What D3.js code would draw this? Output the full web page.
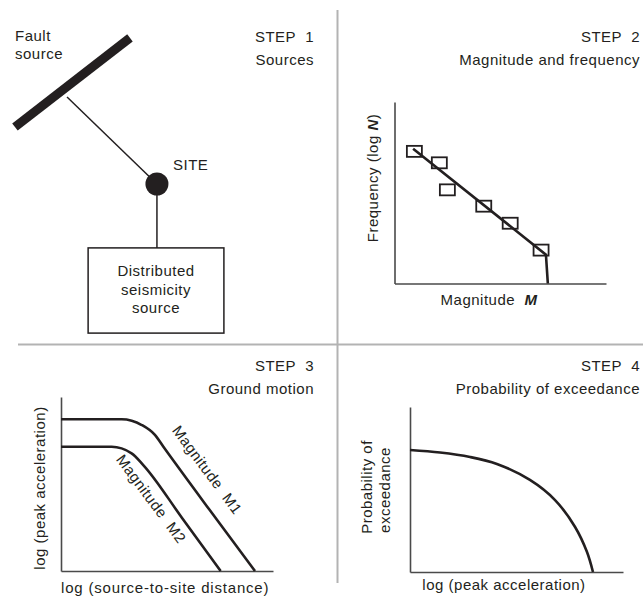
<!DOCTYPE html>
<html>
<head>
<meta charset="utf-8">
<script src="https://cdn.jsdelivr.net/npm/d3@7/dist/d3.min.js"></script>
<style>
  html, body { margin: 0; padding: 0; background: #fff; }
  svg { display: block; }
  text { font-family: "Liberation Sans", Arial, Helvetica, sans-serif; font-size: 15px; letter-spacing: 0.5px; fill: #231f20; white-space: pre; }
</style>
</head>
<body>
<svg id="chart" width="643" height="598"></svg>
<script>
// ---- Step 1: source schematic (units 0..100 in a local frame) ----
const faultTrace = [[1.6, 31], [38.7, 1.3]];           // fault rupture plane
const faultPoint = [18.4, 21];                          // closest point on fault
const sitePoint = [47.4, 50];                           // site location
const areaSource = { x0: 25.2, x1: 69, y0: 71.3, y1: 99.7 }; // distributed source zone
const areaSourceLines = ["Distributed", "seismicity", "source"];

// ---- Step 2: magnitude-recurrence ----
const magObs = [0.94, 2.12, 2.5, 4.22, 5.47, 6.93];
const logNObs = [7.28, 6.65, 5.16, 4.26, 3.32, 1.84];
const recurrenceFit = [[0.88, 7.42], [7.16, 1.59], [7.25, 0]];

// ---- Step 3: attenuation curves ----
const attenM1 = [[0, 8.72], [2.86, 8.72], [3.81, 8.39], [4.43, 7.82], [4.83, 7.14], [6.98, 3.56], [9.15, 0]];
const attenM2 = [[0, 7.14], [2.39, 7.14], [3.33, 6.76], [3.88, 6.09], [5.71, 3.05], [7.53, 0]];

// ---- Step 4: hazard curve ----
const hazardCurve = [[0, 7.39], [1.41, 7.24], [2.82, 6.97], [4.08, 6.55], [5.63, 5.58], [6.81, 4.36], [7.75, 2.73], [8.31, 1.21], [8.59, 0]];

// ---- Panel titles ----
const stepTitles = ["STEP  1", "STEP  2", "STEP  3", "STEP  4"];
const stepSubtitles = ["Sources", "Magnitude and frequency", "Ground motion", "Probability of exceedance"];

const svg = d3.select("#chart");
const ink = "#231f20";
const axisInk = "#4a4a4a";

// panel dividers
svg.append("line").attr("x1", 337.5).attr("x2", 337.5).attr("y1", 10).attr("y2", 583)
  .attr("stroke", "#b3b3b3").attr("stroke-width", 2);
svg.append("line").attr("x1", 18).attr("x2", 643).attr("y1", 344.5).attr("y2", 344.5)
  .attr("stroke", "#b3b3b3").attr("stroke-width", 2);

// titles
const titleRight = [314, 640, 314, 640];
const titleBase = [42, 371];
const subBase = [65, 394];
stepTitles.forEach((t, i) => {
  const row = i < 2 ? 0 : 1;
  svg.append("text").attr("x", titleRight[i]).attr("y", titleBase[row])
    .attr("text-anchor", "end").text(t);
  svg.append("text").attr("x", titleRight[i]).attr("y", subBase[row])
    .attr("text-anchor", "end").text(stepSubtitles[i]);
});

// ===== Step 1 =====
const sx1 = d3.scaleLinear().domain([0, 100]).range([10, 320]);
const sy1 = d3.scaleLinear().domain([0, 100]).range([34, 334]);
const p1 = svg.append("g");
p1.append("line")
  .attr("x1", sx1(faultPoint[0])).attr("y1", sy1(faultPoint[1]))
  .attr("x2", sx1(sitePoint[0])).attr("y2", sy1(sitePoint[1]))
  .attr("stroke", ink).attr("stroke-width", 1.5);
p1.append("line")
  .attr("x1", sx1(sitePoint[0])).attr("y1", sy1(sitePoint[1]))
  .attr("x2", sx1(sitePoint[0])).attr("y2", sy1(areaSource.y0))
  .attr("stroke", ink).attr("stroke-width", 1.5);
p1.append("line")
  .attr("x1", sx1(faultTrace[0][0])).attr("y1", sy1(faultTrace[0][1]))
  .attr("x2", sx1(faultTrace[1][0])).attr("y2", sy1(faultTrace[1][1]))
  .attr("stroke", ink).attr("stroke-width", 9);
p1.append("circle").attr("cx", sx1(sitePoint[0])).attr("cy", sy1(sitePoint[1]))
  .attr("r", 11.5).attr("fill", ink);
p1.append("rect")
  .attr("x", sx1(areaSource.x0)).attr("y", sy1(areaSource.y0))
  .attr("width", sx1(areaSource.x1) - sx1(areaSource.x0))
  .attr("height", sy1(areaSource.y1) - sy1(areaSource.y0))
  .attr("fill", "none").attr("stroke", ink).attr("stroke-width", 1.5);
const boxCx = (sx1(areaSource.x0) + sx1(areaSource.x1)) / 2;
areaSourceLines.forEach((t, i) => {
  p1.append("text").attr("x", boxCx).attr("y", 276 + i * 18.5)
    .attr("text-anchor", "middle").text(t);
});
p1.append("text").attr("x", 173).attr("y", 170).text("SITE");
p1.append("text").attr("x", 15).attr("y", 41).text("Fault");
p1.append("text").attr("x", 15).attr("y", 59).text("source");

// helper: axis lines only (no ticks)
function drawAxes(g, x, y) {
  const xa = g.append("g").attr("transform", `translate(0,${y.range()[0]})`)
    .call(d3.axisBottom(x).ticks(0).tickSizeOuter(0));
  const ya = g.append("g").attr("transform", `translate(${x.range()[0]},0)`)
    .call(d3.axisLeft(y).ticks(0).tickSizeOuter(0));
  [xa, ya].forEach(a => a.select(".domain").attr("stroke", axisInk).attr("stroke-width", 1.6));
}

// ===== Step 2 =====
const x2 = d3.scaleLinear().domain([0, 10]).range([394.5, 606]);
const y2 = d3.scaleLinear().domain([0, 10]).range([283.5, 102]);
const p2 = svg.append("g");
drawAxes(p2, x2, y2);
p2.append("path").datum(recurrenceFit)
  .attr("d", d3.line().x(d => x2(d[0])).y(d => y2(d[1])))
  .attr("fill", "none").attr("stroke", ink).attr("stroke-width", 2.6);
p2.selectAll("rect.obs").data(magObs.map((m, i) => [m, logNObs[i]])).join("rect")
  .attr("class", "obs")
  .attr("x", d => x2(d[0]) - 7.5).attr("y", d => y2(d[1]) - 5.5)
  .attr("width", 15).attr("height", 11)
  .attr("fill", "none").attr("stroke", ink).attr("stroke-width", 1.8);
const xl2 = p2.append("text").attr("x", 489).attr("y", 305).attr("text-anchor", "middle");
xl2.append("tspan").text("Magnitude  ");
xl2.append("tspan").attr("font-weight", "bold").attr("font-style", "italic").text("M");
const yl2 = p2.append("text").attr("transform", "translate(378,178) rotate(-90)").attr("text-anchor", "middle");
yl2.append("tspan").text("Frequency (log ");
yl2.append("tspan").attr("font-weight", "bold").attr("font-style", "italic").text("N");
yl2.append("tspan").text(")");

// ===== Step 3 =====
const x3 = d3.scaleLinear().domain([0, 10]).range([61, 273]);
const y3 = d3.scaleLinear().domain([0, 10]).range([571, 397]);
const p3 = svg.append("g");
drawAxes(p3, x3, y3);
const line3 = d3.line().x(d => x3(d[0])).y(d => y3(d[1])).curve(d3.curveMonotoneX);
[attenM1, attenM2].forEach(c => {
  p3.append("path").datum(c).attr("d", line3)
    .attr("fill", "none").attr("stroke", ink).attr("stroke-width", 2.6);
});
p3.append("text").attr("transform", "translate(203,473) rotate(53.5)")
  .attr("text-anchor", "middle").text("Magnitude  M1");
p3.append("text").attr("transform", "translate(147,502) rotate(53.5)")
  .attr("text-anchor", "middle").text("Magnitude  M2");
p3.append("text").attr("x", 165).attr("y", 593).attr("text-anchor", "middle")
  .attr("textLength", 208).attr("lengthAdjust", "spacing")
  .text("log (source-to-site distance)");
p3.append("text").attr("transform", "translate(45,488) rotate(-90)").attr("text-anchor", "middle")
  .text("log (peak acceleration)");

// ===== Step 4 =====
const x4 = d3.scaleLinear().domain([0, 10]).range([410, 623]);
const y4 = d3.scaleLinear().domain([0, 10]).range([572, 407]);
const p4 = svg.append("g");
drawAxes(p4, x4, y4);
p4.append("path").datum(hazardCurve)
  .attr("d", d3.line().x(d => x4(d[0])).y(d => y4(d[1])).curve(d3.curveCatmullRom))
  .attr("fill", "none").attr("stroke", ink).attr("stroke-width", 2.6);
p4.append("text").attr("x", 504).attr("y", 590).attr("text-anchor", "middle")
  .text("log (peak acceleration)");
p4.append("text").attr("transform", "translate(372,487) rotate(-90)").attr("text-anchor", "middle")
  .text("Probability of");
p4.append("text").attr("transform", "translate(390,490) rotate(-90)").attr("text-anchor", "middle")
  .text("exceedance");
</script>
</body>
</html>
